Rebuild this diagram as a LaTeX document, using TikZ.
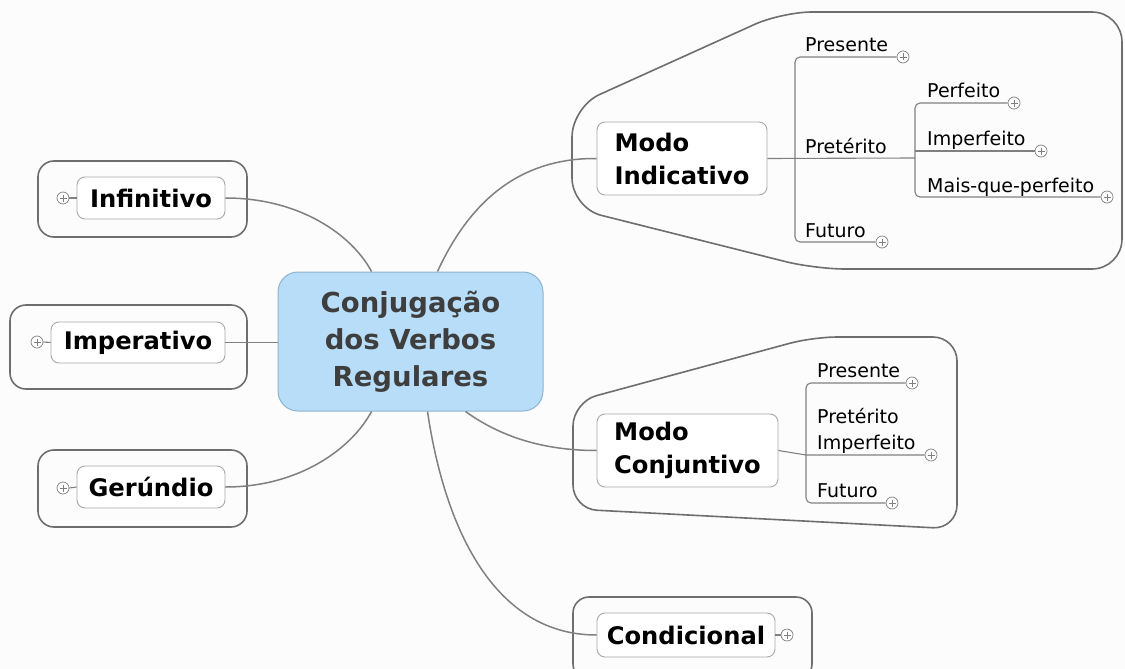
\documentclass[tikz,border=0pt]{standalone}
\usepackage{fontspec}
\setmainfont{DejaVu Sans}
\usetikzlibrary{calc}
\definecolor{conncol}{HTML}{808080}
\definecolor{framecol}{HTML}{6E6E6E}
\definecolor{ibord}{HTML}{A8A8A8}
\definecolor{cfill}{HTML}{B8DDF8}
\definecolor{cbord}{HTML}{8FB3CC}
\definecolor{ctext}{HTML}{3E3E3E}
\definecolor{bgcol}{HTML}{FCFCFC}
\begin{document}
\begin{tikzpicture}[x=1pt,y=-1pt,
  conn/.style={draw=conncol, line width=1.5pt},
  sub/.style={draw=conncol, line width=1.1pt},
  frame/.style={draw=framecol, line width=1.6pt},
  ibox/.style={draw=ibord, line width=0.9pt, rounded corners=8pt, fill=white,
    font=\fontsize{24.2}{33}\selectfont\bfseries, inner sep=0pt},
  central/.style={draw=cbord, line width=1pt, fill=cfill, rounded corners=20pt,
    minimum width=265pt, minimum height=139pt, align=center, text=ctext,
    font=\fontsize{27.5}{37}\selectfont\bfseries},
  sublabel/.style={anchor=base west, inner sep=0pt, font=\fontsize{19}{26}\selectfont},
  plus/.style={circle, draw=gray, line width=0.7pt, minimum size=12pt, inner sep=0pt,
    fill=white, path picture={
      \draw[line width=0.7pt] ($(path picture bounding box.center)+(-3.5,0)$) -- ++(7,0)
        ($(path picture bounding box.center)+(0,-3.5)$) -- ++(0,7);}}
]
\useasboundingbox (0,0) rectangle (1125,669);
\clip (0,0) rectangle (1125,669);
\fill[bgcol] (0,0) rectangle (1125,669);

% frames
\draw[frame, rounded corners=16pt] (38,161) rectangle (247,237);
\draw[frame, rounded corners=16pt] (10,305) rectangle (247,389);
\draw[frame, rounded corners=16pt] (38,450) rectangle (247,527);
\draw[frame, rounded corners=30pt] (950,12) -- (1122,12) -- (1122,269) -- (815,269)
  -- (572,208) -- (572,107) -- (782,12) -- cycle;
\draw[frame, rounded corners=24pt] (890,337) -- (957,337) -- (957,529) -- (573,509)
  -- (573,402) -- (813,337) -- cycle;
\draw[frame, rounded corners=16pt] (573,597) rectangle (812,680);

% main nodes
\node[central] (c) at (410.5,341.5) {Conjugação\\dos Verbos\\Regulares};
\node[ibox, minimum width=148pt, minimum height=42pt] (inf) at (151,198) {Infinitivo};
\node[ibox, minimum width=174pt, minimum height=41pt] (imp) at (138,342.5) {Imperativo};
\node[ibox, minimum width=148pt, minimum height=42pt] (ger) at (151,487) {Gerúndio};
\node[ibox, minimum width=170pt, minimum height=73pt, align=left] (mi) at (682,158.5) {Modo\\Indicativo};
\node[ibox, minimum width=181pt, minimum height=73pt, align=left] (mc) at (687.5,450.5) {Modo\\Conjuntivo};
\node[ibox, minimum width=178pt, minimum height=44pt] (cond) at (686,635) {Condicional};

% plus nodes
\node[plus] (pinf) at (63,198) {};
\node[plus] (pimp) at (37,342) {};
\node[plus] (pger) at (63,488) {};
\node[plus] (pcond) at (787,635) {};
\node[plus] (pA) at (903,57) {};
\node[plus] (pB) at (1014,103) {};
\node[plus] (pC) at (1041,151) {};
\node[plus] (pD) at (1107,197) {};
\node[plus] (pE) at (882,242) {};
\node[plus] (pF) at (912,383) {};
\node[plus] (pG) at (931,455) {};
\node[plus] (pH) at (892,503) {};

% short links to plus
\draw[sub] (pinf.east) -- (inf.west);
\draw[sub] (pimp.east) -- (imp.west);
\draw[sub] (pger.east) -- (ger.west);
\draw[sub] (cond.east) -- (pcond.west);

% central connectors
\draw[conn] (inf.east) .. controls (300,198) and (352,235) .. ($(c.north west)+(94,0)$);
\draw[conn] (imp.east) -- (c.west |- imp.east);
\draw[conn] (ger.east) .. controls (300,487) and (352,448) .. ($(c.south west)+(94,0)$);
\draw[conn] ($(c.north west)+(160,0)$) .. controls (475,190) and (530,158) .. (mi.west);
\draw[conn] ($(c.south west)+(188,0)$) .. controls (505,440) and (550,450.5) .. (mc.west);
\draw[conn] ($(c.south west)+(150,0)$) .. controls (445,530) and (495,635) .. (cond.west);

% Indicativo subtree
\node[sublabel] (lPres) at (805,52) {Presente};
\node[sublabel] (lPret) at (805,153) {Pretérito};
\node[sublabel] (lFut) at (805,237) {Futuro};
\node[sublabel] (lPerf) at (927,98) {Perfeito};
\node[sublabel] (lImp) at (927,145) {Imperfeito};
\node[sublabel] (lMais) at (927,192) {Mais-que-perfeito};
\draw[sub] (mi.east) -- (915,158);
\draw[sub, rounded corners=5pt] (pA.west) -| (795,158) |- (pE.west);
\draw[sub, rounded corners=5pt] (pB.west) -| (915,151) |- (pD.west);
\draw[sub] (915,151) -- (pC.west);

% Conjuntivo subtree
\node[sublabel] (cPres) at (817,377) {Presente};
\node[sublabel, align=left, anchor=south west, text depth=0pt] (cPret) at (817,450) {Pretérito\\Imperfeito};
\node[sublabel] (cFut) at (817,497) {Futuro};
\draw[sub, rounded corners=5pt] (pF.west) -| (806,455) |- (pH.west);
\draw[sub] (mc.east) -- (806,455) -- (pG.west);
\end{tikzpicture}
\end{document}
